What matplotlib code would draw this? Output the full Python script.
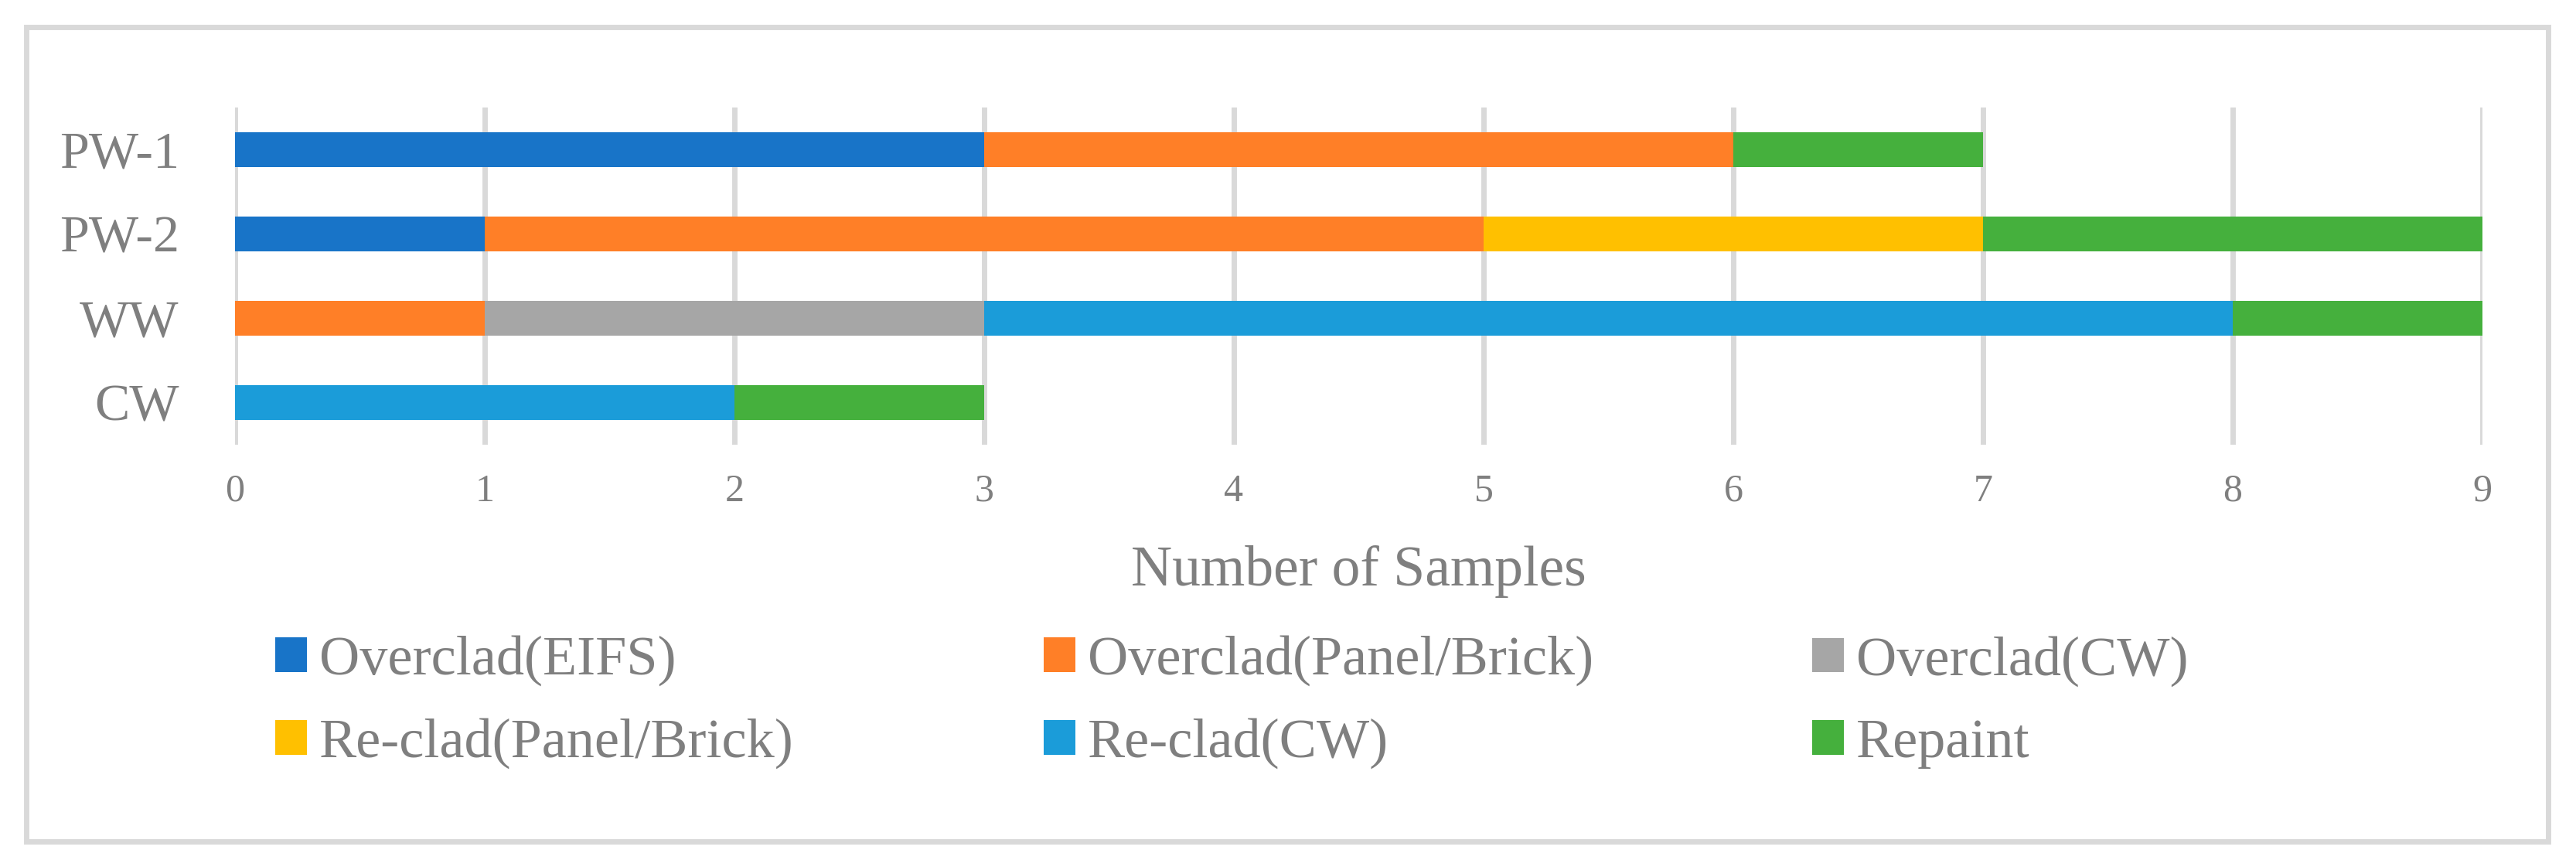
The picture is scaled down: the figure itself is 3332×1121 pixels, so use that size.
import numpy as np
import matplotlib.pyplot as plt
from matplotlib.patches import Rectangle, Patch

# categories (top to bottom) and stacked segment values
walls = ['PW-1', 'PW-2', 'WW', 'CW']
overclad_eifs = [3, 1, 0, 0]
overclad_panel = [3, 4, 1, 0]
overclad_cw = [0, 0, 2, 0]
reclad_panel = [0, 2, 0, 0]
reclad_cw = [0, 0, 5, 2]
repaint = [1, 2, 1, 1]

series_names = ['Overclad(EIFS)', 'Overclad(Panel/Brick)', 'Overclad(CW)',
                'Re-clad(Panel/Brick)', 'Re-clad(CW)', 'Repaint']
series_vals = [overclad_eifs, overclad_panel, overclad_cw,
               reclad_panel, reclad_cw, repaint]
colors = ['#1874C8', '#FF7F27', '#A6A6A6', '#FFC000', '#1B9CD9', '#45B03D']
x_ticks = list(range(10))

grey_txt = '#7F7F7F'
grid_col = '#D9D9D9'
plt.rcParams['font.family'] = ['Liberation Serif', 'DejaVu Serif']

W, H = 3332, 1121
fig = plt.figure(figsize=(W / 100, H / 100), dpi=100)
fig.patch.set_facecolor('white')

# outer frame
fig.patches.append(Rectangle((34 / W, 1 - 1088 / H), (3296 - 34) / W, (1088 - 35) / H,
                             transform=fig.transFigure, fill=False,
                             ec=grid_col, lw=5, zorder=0))

ax = fig.add_axes([304 / W, 1 - 575 / H, (3211 - 304) / W, (575 - 139) / H])
y = np.arange(len(walls))
left = np.zeros(len(walls))
for name, vals, c in zip(series_names, series_vals, colors):
    vals = np.array(vals, dtype=float)
    ax.barh(y, vals, left=left, height=0.405, color=c, label=name, zorder=3)
    left += vals

ax.set_xlim(0, 9)
ax.set_ylim(len(walls) - 0.5, -0.5)
ax.set_yticks(y)
ax.set_yticklabels(walls)
ax.set_xticks(x_ticks)
ax.xaxis.grid(True, color=grid_col, lw=5, zorder=0)
ax.set_axisbelow(True)
for s in ax.spines.values():
    s.set_visible(False)
ax.tick_params(axis='y', length=0, pad=52, labelsize=49, labelcolor=grey_txt)
ax.tick_params(axis='x', length=0, pad=27, labelsize=36, labelcolor=grey_txt)

ax.set_xlabel('Number of Samples', fontsize=53, color=grey_txt)
ax.xaxis.label.set_va('baseline')
ax.xaxis.set_label_coords(0.5, (575 - 757) / 436)

# legend, three columns placed at fixed spots like the original
handles = [Patch(facecolor=c, edgecolor='none') for c in colors]
col_x = [356, 1350, 2344]
order = [(0, 3), (1, 4), (2, 5)]
for cx, (a, b) in zip(col_x, order):
    leg = fig.legend([handles[a], handles[b]], [series_names[a], series_names[b]],
                     loc='center left', bbox_to_anchor=(cx / W, 1 - 908 / H),
                     frameon=False, fontsize=52, labelcolor=grey_txt,
                     handlelength=0.57, handleheight=0.57, handletextpad=0.22,
                     labelspacing=0.57, borderpad=0, borderaxespad=0)

fig.savefig('out.png', dpi=100)
